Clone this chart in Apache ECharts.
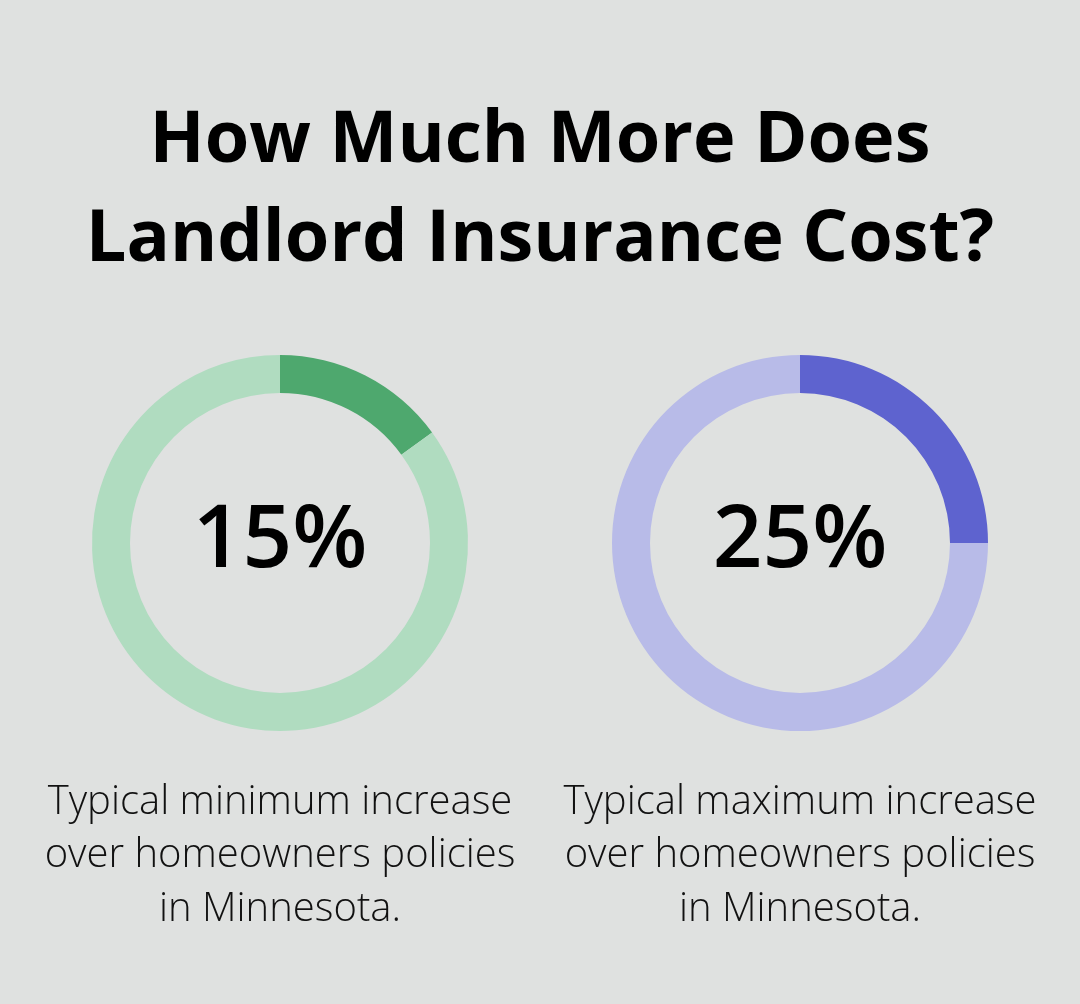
<!DOCTYPE html>
<html>
<head>
<meta charset="utf-8">
<script src="https://cdn.jsdelivr.net/npm/echarts@6/dist/echarts.min.js"></script>
<style>
html,body{margin:0;padding:0;background:#dfe1e0;}
#chart{width:1080px;height:1004px;}
</style>
</head>
<body>
<div id="chart"></div>
<script>
var titleText = 'How Much More Does\nLandlord Insurance Cost?';
var labels = ['15%', '25%'];
var values = [15, 25];
var captions = [
  'Typical minimum increase\nover homeowners policies\nin Minnesota.',
  'Typical maximum increase\nover homeowners policies\nin Minnesota.'
];
var darkColors = ['#4ea86e', '#5e63cf'];
var lightColors = ['#b0dcc0', '#b8bbe8'];
var centersX = [280, 800];

var chart = echarts.init(document.getElementById('chart'));
var series = [];
var graphics = [{
  type: 'text', x: 540, y: 91.5,
  style: { text: titleText, font: 'bold 72px "Open Sans"', fill: '#000', align: 'center', verticalAlign: 'top', lineHeight: 99 }
}];
values.forEach(function (v, i) {
  series.push({
    type: 'pie',
    center: [centersX[i], 543],
    radius: [150, 188],
    startAngle: 90,
    clockwise: true,
    silent: true,
    label: { show: false },
    labelLine: { show: false },
    data: [
      { value: v, itemStyle: { color: darkColors[i] } },
      { value: 100 - v, itemStyle: { color: lightColors[i] } }
    ]
  });
  graphics.push({
    type: 'text', x: centersX[i], y: 542,
    style: { text: labels[i], fontFamily: 'Open Sans', fontSize: 87, fontWeight: 600, fill: '#000', align: 'center', verticalAlign: 'middle' }
  });
  graphics.push({
    type: 'text', x: centersX[i], y: 775.5,
    style: { text: captions[i], fontFamily: 'Open Sans', fontSize: 40, fontWeight: 300, fill: '#111', align: 'center', verticalAlign: 'top', lineHeight: 53.5 }
  });
});
chart.setOption({
  backgroundColor: '#dfe1e0',
  animation: false,
  series: series,
  graphic: graphics
});
</script>
</body>
</html>
